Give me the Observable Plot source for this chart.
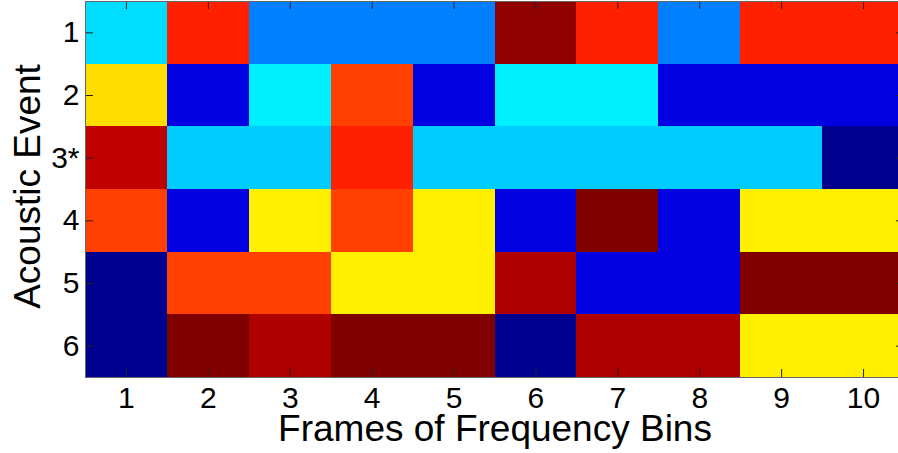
<!DOCTYPE html>
<html><head><meta charset="utf-8">
<script src="https://cdn.jsdelivr.net/npm/d3@7"></script>
<script src="https://cdn.jsdelivr.net/npm/@observablehq/plot@0.6"></script>
<style>html,body{margin:0;padding:0;background:#fff;overflow:hidden;}</style>
</head><body><div id="chart"></div>
<script>
// Columns (frames of frequency bins) and rows (acoustic events)
const frames = [1, 2, 3, 4, 5, 6, 7, 8, 9, 10];
const events = ["1", "2", "3*", "4", "5", "6"];
// Cell values on the jet colour scale (0 = dark blue, 1 = dark red)
const event1 = [0.342, 0.844, 0.25, 0.25, 0.25, 0.985, 0.844, 0.25, 0.844, 0.844];
const event2 = [0.658, 0.095, 0.36, 0.8125, 0.095, 0.36, 0.36, 0.095, 0.095, 0.095];
const event3 = [0.9375, 0.325, 0.325, 0.844, 0.325, 0.325, 0.325, 0.325, 0.325, 0.0156];
const event4 = [0.8125, 0.095, 0.64, 0.8125, 0.64, 0.095, 1.0, 0.095, 0.64, 0.64];
const event5 = [0.0156, 0.8125, 0.8125, 0.64, 0.64, 0.953, 0.095, 0.095, 1.0, 1.0];
const event6 = [0.0156, 1.0, 0.953, 1.0, 1.0, 0.0156, 0.953, 0.953, 0.64, 0.64];
const xTitle = "Frames of Frequency Bins";
const yTitle = "Acoustic Event";

const rowsValues = [event1, event2, event3, event4, event5, event6];
const data = events.flatMap((e, i) => frames.map((f, j) => ({frame: f, event: e, value: rowsValues[i][j]})));

function jet(t) {
  const c = v => Math.max(0, Math.min(1, v));
  const r = c(1.5 - Math.abs(4 * t - 3)), g = c(1.5 - Math.abs(4 * t - 2)), b = c(1.5 - Math.abs(4 * t - 1));
  return d3.rgb(r * 255, g * 255, b * 255).formatHex();
}

const width = 898, height = 453, ml = 85, mr = -6, mt = 1, mb = 76;
const fw = width - ml - mr, fh = height - mt - mb, tickLen = 8;

const chart = Plot.plot({
  width, height,
  marginLeft: ml, marginRight: mr, marginTop: mt, marginBottom: mb,
  style: {fontFamily: "'Liberation Sans', Arial, sans-serif", fontSize: "30px", background: "white", color: "black"},
  x: {type: "band", domain: frames, padding: 0, round: false, label: null},
  y: {type: "band", domain: events, padding: 0, round: false, label: null},
  color: {type: "linear", domain: [0, 1], interpolate: jet},
  marks: [
    Plot.cell(data, {x: "frame", y: "event", fill: "value", shapeRendering: "crispEdges"}),
    Plot.tickX(frames, {x: d => d, insetTop: fh - tickLen, stroke: "#222"}),
    Plot.tickX(frames, {x: d => d, insetBottom: fh - tickLen, stroke: "#222"}),
    Plot.tickY(events, {y: d => d, insetRight: fw - tickLen, stroke: "#222"}),
    Plot.tickY(events, {y: d => d, insetLeft: fw - tickLen, stroke: "#222"}),
    Plot.frame({stroke: "#666"}),
    Plot.axisX({anchor: "bottom", tickSize: 0, tickPadding: 9, fontSize: 30, label: null}),
    Plot.axisY({anchor: "left", tickSize: 0, tickPadding: 6, fontSize: 30, label: null}),
    Plot.text([xTitle], {frameAnchor: "bottom", dy: 52, fontSize: 37, textAnchor: "middle", lineAnchor: "middle", text: d => d}),
    Plot.text([yTitle], {frameAnchor: "left", dx: -57, dy: -3, rotate: -90, fontSize: 37, textAnchor: "middle", lineAnchor: "middle", text: d => d})
  ]
});
document.getElementById("chart").append(chart);
</script>
</body></html>
